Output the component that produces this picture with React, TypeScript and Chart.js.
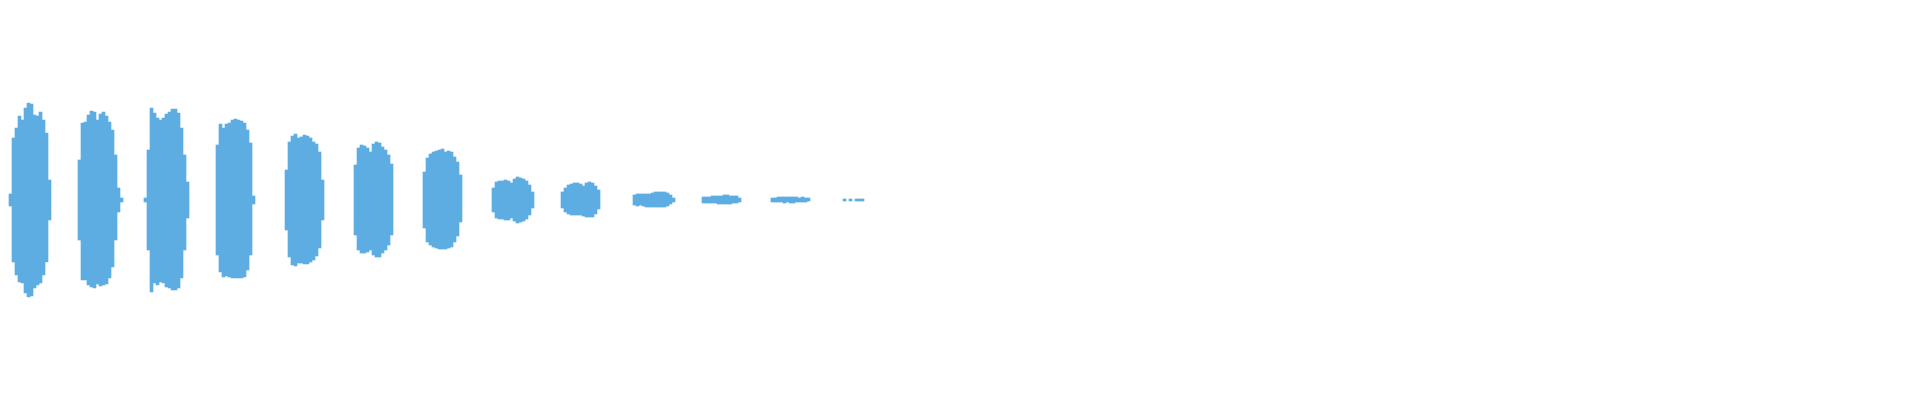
import Chart from 'chart.js/auto';
import { type FC, useEffect, useRef } from 'react';

// number of 3px columns across the 1920px wide waveform
const COLUMNS = 640;

// first column of every pulse
const pulseStart = [3, 26, 48, 72, 95, 118, 141, 164, 187, 211, 234, 257, 281];

// peak above the centre line, per column
const pulseTop = [
  [6, 62, 72, 84, 80, 92, 97, 96, 85, 84, 88, 80, 67, 20],
  [40, 77, 78, 85, 89, 88, 80, 86, 88, 84, 78, 70, 45, 12, 2],
  [2, 50, 92, 87, 82, 80, 82, 86, 88, 91, 91, 87, 72, 45, 18],
  [55, 76, 72, 76, 77, 80, 81, 80, 79, 77, 70, 57, 4],
  [30, 58, 64, 66, 62, 63, 65, 64, 62, 58, 56, 48, 20],
  [35, 52, 55, 54, 52, 48, 56, 58, 57, 53, 50, 45, 36],
  [28, 42, 46, 48, 49, 50, 51, 48, 49, 48, 43, 38, 25],
  [12, 18, 19, 19, 20, 19, 17, 21, 23, 22, 21, 19, 15, 8],
  [8, 12, 15, 16, 17, 17, 16, 14, 17, 18, 17, 14, 10],
  [5, 6, 6, 6, 6, 6, 7, 8, 8, 8, 8, 7, 5, 2],
  [3, 3, 3, 4, 4, 4, 4, 5, 5, 4, 4, 4, 2],
  [2, 2, 3, 3, 3, 3, 3, 3, 3, 2, 3, 2, 2],
  [1, 0, 1, 0, 1, 1, 1]
];

// trough below the centre line, per column
const pulseBottom = [
  [6, 62, 75, 82, 83, 93, 97, 96, 88, 85, 83, 75, 62, 20],
  [40, 80, 80, 85, 87, 88, 84, 86, 85, 84, 78, 67, 40, 12, 2],
  [2, 50, 92, 83, 85, 82, 83, 87, 88, 90, 90, 88, 78, 50, 18],
  [55, 72, 77, 76, 77, 78, 78, 78, 78, 77, 70, 55, 4],
  [30, 57, 65, 66, 63, 63, 64, 64, 62, 60, 56, 48, 20],
  [35, 50, 53, 53, 52, 50, 55, 57, 57, 53, 50, 45, 35],
  [28, 42, 45, 47, 48, 49, 49, 49, 48, 47, 42, 36, 22],
  [12, 18, 19, 19, 20, 20, 18, 21, 23, 22, 21, 19, 15, 8],
  [8, 12, 14, 15, 15, 15, 15, 16, 17, 17, 17, 14, 9],
  [5, 6, 5, 6, 7, 7, 7, 7, 7, 7, 7, 6, 4, 2],
  [3, 3, 3, 3, 3, 4, 4, 4, 4, 4, 3, 3, 2],
  [2, 2, 2, 2, 3, 2, 3, 3, 2, 2, 2, 2, 1],
  [1, 0, 1, 0, 1, 1, 1]
];

const Waveform: FC = () => {
  const chartRef = useRef<HTMLCanvasElement>(null);
  const chartInstance = useRef<Chart | null>(null);

  useEffect(() => {
    if (!chartRef.current) return;

    const ctx = chartRef.current.getContext('2d');
    if (!ctx) return;

    if (chartInstance.current) {
      chartInstance.current.destroy();
    }

    const labels = Array.from({ length: COLUMNS }, (_, i) => String(i));
    const values: ([number, number] | null)[] = labels.map(() => null);

    pulseStart.forEach((start, p) => {
      pulseTop[p].forEach((top, i) => {
        const bottom = pulseBottom[p][i];
        if (top || bottom) values[start + i] = [-bottom, top];
      });
    });

    chartInstance.current = new Chart(ctx, {
      type: 'bar',
      data: {
        labels,
        datasets: [
          {
            label: 'Amplitude',
            data: values as any,
            backgroundColor: '#5dade2',
            borderWidth: 0,
            barPercentage: 1,
            categoryPercentage: 1
          }
        ]
      },
      options: {
        animation: false,
        responsive: true,
        maintainAspectRatio: false,
        layout: { padding: 0 },
        plugins: {
          legend: { display: false },
          tooltip: { enabled: false }
        },
        scales: {
          x: { display: false },
          y: { display: false, min: -200, max: 200 }
        }
      }
    });

    return () => {
      if (chartInstance.current) {
        chartInstance.current.destroy();
        chartInstance.current = null;
      }
    };
  }, []);

  return (
    <div style={{ position: 'fixed', left: 0, top: 0, width: '100vw', height: '100vh' }}>
      <canvas ref={chartRef} />
    </div>
  );
};

const App: FC = () => <Waveform />;

export default App;
